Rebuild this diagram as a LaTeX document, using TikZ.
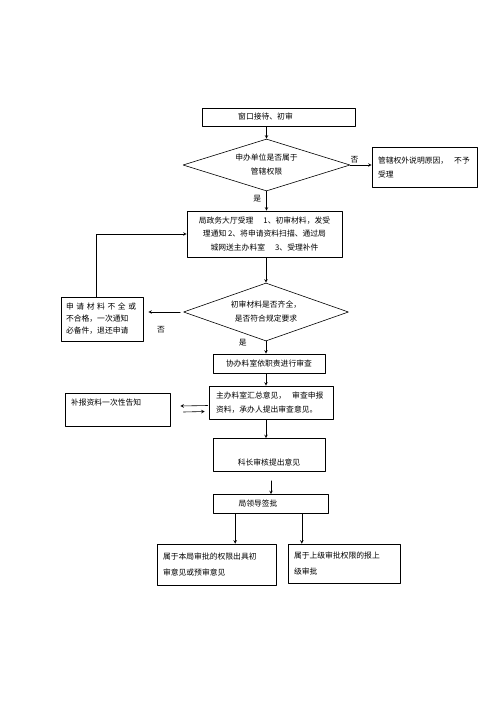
\documentclass[tikz,border=0pt]{standalone}
\usepackage{fontspec}
\setmainfont{Noto Sans CJK SC}
\usetikzlibrary{shapes.geometric}

\begin{document}
\begin{tikzpicture}[line join = round, line cap = round, x = 1pt, y = -1pt,
  semithick,
  txt/.style = {font = \fontsize{7.8}{14}\selectfont, inner sep = 0pt},
  box/.style = {draw, rectangle, font = \fontsize{7.8}{14}\selectfont},
  dia/.style = {draw, diamond, aspect = 3.2, inner sep = 0pt, align = center,
    font = \fontsize{7.8}{14}\selectfont}]
  \useasboundingbox (0, 0) rectangle (500, 707);

  \node[box, minimum width = 153pt, minimum height = 18pt] (win) at (278.5, 117) {};
  \node[txt] at (265.5, 117) {窗口接待、初审};

  \node[dia, minimum width = 167pt, minimum height = 52pt] (d1) at (266.5, 165)
    {申办单位是否属于\\管辖权限};
  \node[box, text width = 93pt, inner xsep = 6pt, align = left,
    minimum height = 40pt] (no1) at (424.5, 167) {管辖权外说明原因，\hspace{6pt}不予\\受理};

  \node[box, align = center, minimum width = 155pt, minimum height = 46pt,
    font = \fontsize{7.8}{13.5}\selectfont] (hall) at (264.5, 234)
    {局政务大厅受理\hspace{10pt}1、初审材料，发受\\理通知 2、将申请资料扫描、通过局\\城网送主办料室\hspace{10pt}3、受理补件};

  \node[dia, minimum width = 165pt, minimum height = 58pt] (d2) at (266, 312)
    {初审材料是否齐全，\\是否符合规定要求};
  \node[box, text width = 72pt, inner xsep = 5pt, align = left, minimum height = 44pt,
    font = \fontsize{7.8}{12}\selectfont] (lack) at (102, 319)
    {\makebox[72pt][s]{申 请 材 料 不 全 或}\\不合格，一次通知\\必备件，退还申请};

  \node[box, minimum width = 112pt, minimum height = 19pt] (coop) at (269, 363.5)
    {协办料室依职责进行审查};
  \node[box, text width = 110pt, inner xsep = 7pt, align = left,
    minimum height = 33pt] (main) at (271, 402.5)
    {主办料室汇总意见，\hspace{6pt}审查申报\\资料，承办人提出审查意见。};
  \node[box, text width = 93pt, inner xsep = 6pt, inner ysep = 4pt, text height = 8pt,
    text depth = 17pt, align = left] (supp) at (117.5, 409.5) {补报资料一次性告知};

  \node[box, minimum width = 112pt, inner ysep = 4pt, text height = 23pt,
    text depth = 2pt] (chief) at (269, 455) {科长审核提出意见};

  \node[box, minimum width = 115pt, minimum height = 19pt] (lead) at (271, 504) {};
  \node[txt] at (258, 504) {局领导签批};

  \node[box, text width = 107pt, inner xsep = 6pt, align = left, minimum height = 41pt,
    font = \fontsize{7.8}{16}\selectfont] (bl) at (216.5, 564.5)
    {属于本局审批的权限出具初\\审意见或预审意见};
  \node[box, text width = 100pt, inner xsep = 6pt, align = left, minimum height = 39pt,
    font = \fontsize{7.8}{16}\selectfont] (br) at (344, 563.5)
    {属于上级审批权限的报上\\级审批};

  \draw[-stealth] (win.south -| d1.north) -- (d1.north);
  \draw[-stealth] (d1.east) -- (d1.east -| no1.west)
    node[pos = .2, above = 2pt, txt] {否};
  \draw[-stealth] (d1.south) -- (d1.south |- hall.north)
    node[pos = .4, left = 5pt, txt] {是};
  \draw[-stealth] (d2.north |- hall.south) -- (d2.north);
  \draw[-stealth] ([xshift = -3pt]d2.west) -- ([xshift = 5pt]d2.west -| lack.east)
    node[pos = .6, below = 14pt, txt] {否};
  \draw[-stealth] ([xshift = -6pt]lack.north) |- (hall.west);
  \draw[-stealth] (d2.south) -- (d2.south |- coop.north)
    node[pos = .1, left = 19pt, txt] {是};
  \draw[-stealth] (coop.south -| d2.south) -- (main.north -| d2.south);
  \draw[-stealth] ([shift = {(-1, 3)}]main.west) -- ([shift = {(10, -3.5)}]supp.east);
  \draw[-stealth] ([shift = {(13, 2.5)}]supp.east) -- ([shift = {(-4, 9)}]main.west);
  \draw[-stealth] (main.south -| d2.south) -- (chief.north -| d2.south);
  \draw[-stealth] ([yshift = -9pt]lead.north |- chief.south) -- (lead.north);
  \draw[-stealth] ([xshift = 22pt]lead.south west) -- ([xshift = 22pt]lead.south west |- bl.north);
  \draw[-stealth] ([xshift = -27pt]lead.south east) -- ([xshift = -27pt]lead.south east |- br.north);
\end{tikzpicture}
\end{document}
